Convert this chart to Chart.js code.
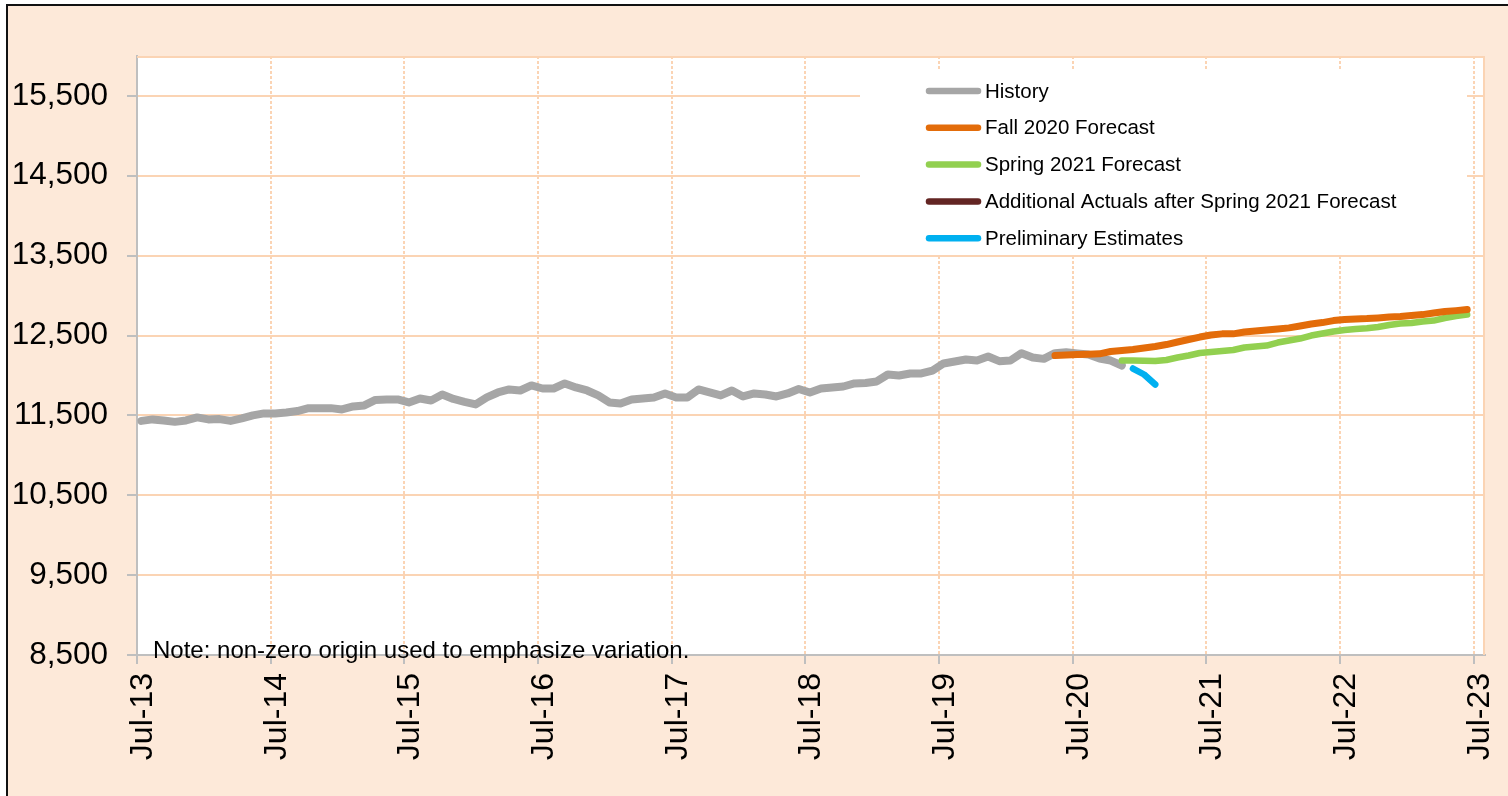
<!DOCTYPE html>
<html>
<head>
<meta charset="utf-8">
<script src="https://cdn.jsdelivr.net/npm/chart.js@4/dist/chart.umd.min.js"></script>
<style>
  html, body { margin: 0; padding: 0; background: #ffffff; }
  #frame {
    position: absolute; left: 6px; top: 4px; width: 1502px; height: 792px;
    background: #FDE9D9; border-left: 2px solid #111; border-top: 2px solid #111;
  }
  #chart { position: absolute; left: 0; top: 0; }
</style>
</head>
<body>
<div id="frame"></div>
<canvas id="chart" width="1508" height="796"></canvas>
<script>
// month index 0 = Jul-13
const tickLabels = ["Jul-13", "Jul-14", "Jul-15", "Jul-16", "Jul-17", "Jul-18", "Jul-19", "Jul-20", "Jul-21", "Jul-22", "Jul-23"];
const yTicks = [8500, 9500, 10500, 11500, 12500, 13500, 14500, 15500];

const seriesNames = ["History", "Fall 2020 Forecast", "Spring 2021 Forecast", "Additional Actuals after Spring 2021 Forecast", "Preliminary Estimates"];
const seriesColors = ["#A6A6A6", "#E36C0A", "#92D050", "#632523", "#00B0F0"];

const historyStart = 0;
const historyValues = [
  11431, 11450, 11437, 11419, 11437, 11475, 11450, 11454, 11431, 11462, 11500, 11525,
  11525, 11537, 11554, 11591, 11591, 11591, 11575, 11612, 11625, 11694, 11700, 11700,
  11662, 11712, 11687, 11762, 11706, 11669, 11637, 11725, 11787, 11825, 11812, 11875,
  11837, 11837, 11900, 11850, 11812, 11750, 11662, 11650, 11700, 11712, 11725, 11775,
  11725, 11725, 11825, 11787, 11750, 11812, 11737, 11775, 11762, 11737, 11775, 11831,
  11787, 11837, 11850, 11862, 11900, 11906, 11925, 12012, 12000, 12025, 12025, 12062,
  12150, 12175, 12200, 12187, 12237, 12179, 12187, 12279, 12225, 12208, 12279, 12291,
  12275, 12262, 12212, 12187, 12125
];

const fallStart = 82;
const fallValues = [
  12250, 12256, 12262, 12266, 12271, 12300, 12312, 12325, 12344, 12362, 12387, 12419,
  12450, 12481, 12506, 12521, 12521, 12544, 12556, 12569, 12581, 12596, 12619, 12644,
  12662, 12687, 12700, 12708, 12712, 12721, 12731, 12737, 12750, 12762, 12781, 12800,
  12812, 12825
];

const springStart = 88;
const springValues = [
  12187, 12187, 12183, 12181, 12194, 12225, 12250, 12281, 12294, 12306, 12319, 12350,
  12362, 12375, 12412, 12437, 12462, 12500, 12525, 12550, 12569, 12581, 12590, 12606,
  12631, 12650, 12656, 12675, 12687, 12719, 12744, 12762
];

const additionalStart = 89;
const additionalValues = [];

const prelimStart = 89;
const prelimValues = [12087, 12012, 11887];

// data points sit a little after the Jul tick marks
const tickShift = -0.4;

const FONT = "'Liberation Sans', Arial, sans-serif";

function toPoints(start, values) {
  return values.map((v, i) => ({ x: start + i, y: v }));
}

function lineSet(idx, points, width, order) {
  return {
    label: seriesNames[idx],
    data: points,
    borderColor: seriesColors[idx],
    backgroundColor: seriesColors[idx],
    borderWidth: width,
    borderCapStyle: "round",
    borderJoinStyle: "round",
    pointRadius: 0,
    pointHoverRadius: 0,
    tension: 0,
    fill: false,
    order: order,
  };
}

const plotDecor = {
  id: "plotDecor",
  beforeDraw(chart) {
    const { ctx, chartArea: a } = chart;
    ctx.save();
    ctx.fillStyle = "#ffffff";
    ctx.fillRect(a.left, a.top, a.right - a.left, a.bottom - a.top);
    ctx.restore();
  },
  beforeDatasetsDraw(chart) {
    const { ctx, chartArea: a } = chart;
    ctx.save();
    ctx.strokeStyle = "#FBD4B4";
    ctx.lineWidth = 2;
    ctx.beginPath();
    ctx.moveTo(a.left, a.top + 1);
    ctx.lineTo(a.right - 1, a.top + 1);
    ctx.lineTo(a.right - 1, a.bottom);
    ctx.stroke();

    // legend box
    ctx.fillStyle = "#ffffff";
    ctx.fillRect(860, 69, 607, 186);
    ctx.font = "20.5px " + FONT;
    ctx.textBaseline = "middle";
    ctx.textAlign = "left";
    seriesNames.forEach((name, i) => {
      const y = 91 + i * 36.8;
      ctx.strokeStyle = seriesColors[i];
      ctx.lineWidth = 6.5;
      ctx.lineCap = "round";
      ctx.beginPath();
      ctx.moveTo(929, y);
      ctx.lineTo(978, y);
      ctx.stroke();
      ctx.fillStyle = "#000000";
      ctx.fillText(name, 985, y + 1);
    });

    ctx.font = "24px " + FONT;
    ctx.textBaseline = "alphabetic";
    ctx.fillText("Note: non-zero origin used to emphasize variation.", 153, 658);
    ctx.restore();
  },
};

new Chart(document.getElementById("chart"), {
  type: "line",
  data: {
    datasets: [
      lineSet(0, toPoints(historyStart, historyValues), 8, 5),
      lineSet(1, toPoints(fallStart, fallValues), 7, 2),
      lineSet(2, toPoints(springStart, springValues), 6.5, 3),
      lineSet(3, toPoints(additionalStart, additionalValues), 7, 1),
      lineSet(4, toPoints(prelimStart, prelimValues), 6.5, 0),
    ],
  },
  options: {
    responsive: false,
    animation: false,
    devicePixelRatio: 1,
    layout: { padding: { left: 0, top: 56, right: 23, bottom: 0 } },
    plugins: {
      legend: { display: false },
      tooltip: { enabled: false },
    },
    scales: {
      x: {
        type: "linear",
        min: tickShift,
        max: 120.6,
        afterBuildTicks: (axis) => {
          axis.ticks = tickLabels.map((_, k) => ({ value: k * 12 + tickShift }));
        },
        afterFit: (axis) => {
          axis.height = 141;
          axis.paddingLeft = 0;
          axis.paddingRight = 0;
        },
        ticks: {
          autoSkip: false,
          minRotation: 90,
          maxRotation: 90,
          padding: 9,
          labelOffset: 6,
          color: "#000000",
          font: { family: FONT, size: 32 },
          callback: (value) => tickLabels[Math.round((value - tickShift) / 12)],
        },
        grid: {
          color: "#FBD4B4",
          lineWidth: 2,
          tickLength: 9,
          tickColor: "#BFBFBF",
          tickWidth: 2,
        },
        border: { display: true, color: "#BFBFBF", width: 2, dash: [3, 2] },
      },
      y: {
        type: "linear",
        min: 8500,
        max: 16000,
        afterBuildTicks: (axis) => {
          axis.ticks = yTicks.map((v) => ({ value: v }));
        },
        afterFit: (axis) => {
          axis.width = 137;
          axis.paddingTop = 0;
          axis.paddingBottom = 0;
        },
        ticks: {
          padding: 19,
          color: "#000000",
          font: { family: FONT, size: 31.5 },
          callback: (value) => value.toLocaleString("en-US"),
        },
        grid: {
          color: "#FBD4B4",
          lineWidth: 2,
          tickLength: 10,
          tickColor: "#BFBFBF",
          tickWidth: 2,
        },
        border: { display: true, color: "#BFBFBF", width: 2 },
      },
    },
  },
  plugins: [plotDecor],
});
</script>
</body>
</html>
